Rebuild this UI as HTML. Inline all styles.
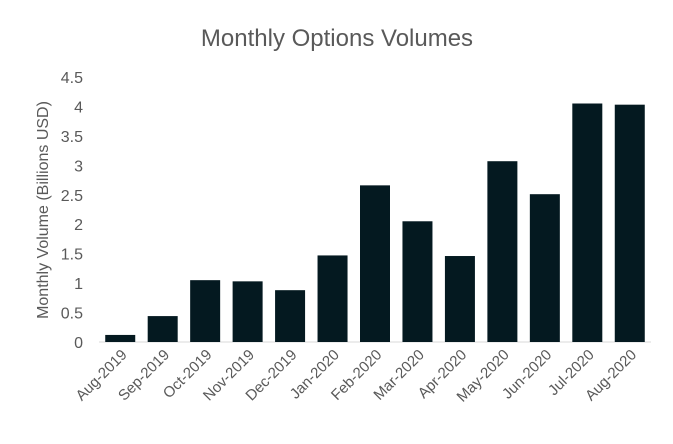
<!DOCTYPE html>
<html><head><meta charset="utf-8"><style>
body{margin:0;background:#fff;}
svg text{font-family:"Liberation Sans",sans-serif;}
</style></head><body>
<svg width="673" height="439" viewBox="0 0 673 439">
<rect width="673" height="439" fill="#fff"/>
<text x="337" y="46" text-anchor="middle" font-size="24" fill="#595959">Monthly Options Volumes</text>
<text transform="translate(48,210) rotate(-90)" text-anchor="middle" font-size="16" fill="#595959">Monthly Volume (Billions USD)</text>
<g id="yticks"></g>
<line x1="99" y1="342" x2="651" y2="342" stroke="#d9d9d9" stroke-width="1"/>
<g id="bars"></g>
<g id="xlabels"></g>
</svg>
<script>
const categories=["Aug-2019","Sep-2019","Oct-2019","Nov-2019","Dec-2019","Jan-2020","Feb-2020","Mar-2020","Apr-2020","May-2020","Jun-2020","Jul-2020","Aug-2020"];
const volumes=[0.12,0.44,1.05,1.03,0.88,1.47,2.66,2.05,1.46,3.07,2.51,4.05,4.03];
const yTicks=[0,0.5,1,1.5,2,2.5,3,3.5,4,4.5];
const yTickLabels=["0","0.5","1","1.5","2","2.5","3","3.5","4","4.5"];
const NS="http://www.w3.org/2000/svg";
const x0=99,x1=651,y0=342,yMax=4.5,yTop=77;
const step=(x1-x0)/categories.length;
function xc(i){return x0+step*(i+0.5);}
function ys(v){return y0-(v/yMax)*(y0-yTop);}
const yt=document.getElementById('yticks');
yTicks.forEach((v,i)=>{
 const t=document.createElementNS(NS,'text');
 
 
 t.setAttribute('x',83);t.setAttribute('y',ys(v)+6);
 t.setAttribute('text-anchor','end');t.setAttribute('font-size','16');t.setAttribute('fill','#595959');
 t.textContent=yTickLabels[i];yt.appendChild(t);
});
const bg=document.getElementById('bars'),xl=document.getElementById('xlabels');
categories.forEach((c,i)=>{
 const r=document.createElementNS(NS,'rect');
 
 
 const w=30;
 r.setAttribute('x',xc(i)-w/2);r.setAttribute('width',w);
 r.setAttribute('y',ys(volumes[i]));r.setAttribute('height',y0-ys(volumes[i]));
 r.setAttribute('fill','#041920');bg.appendChild(r);
 const t=document.createElementNS(NS,'text');
 
 
 const lx=xc(i)+4,ly=352;
 t.setAttribute('transform','translate('+lx+','+ly+') rotate(-45)');
 t.setAttribute('text-anchor','end');t.setAttribute('font-size','15');t.setAttribute('fill','#595959');
 t.setAttribute('dy','5');
 t.textContent=c;xl.appendChild(t);
});
</script>
</body></html>
